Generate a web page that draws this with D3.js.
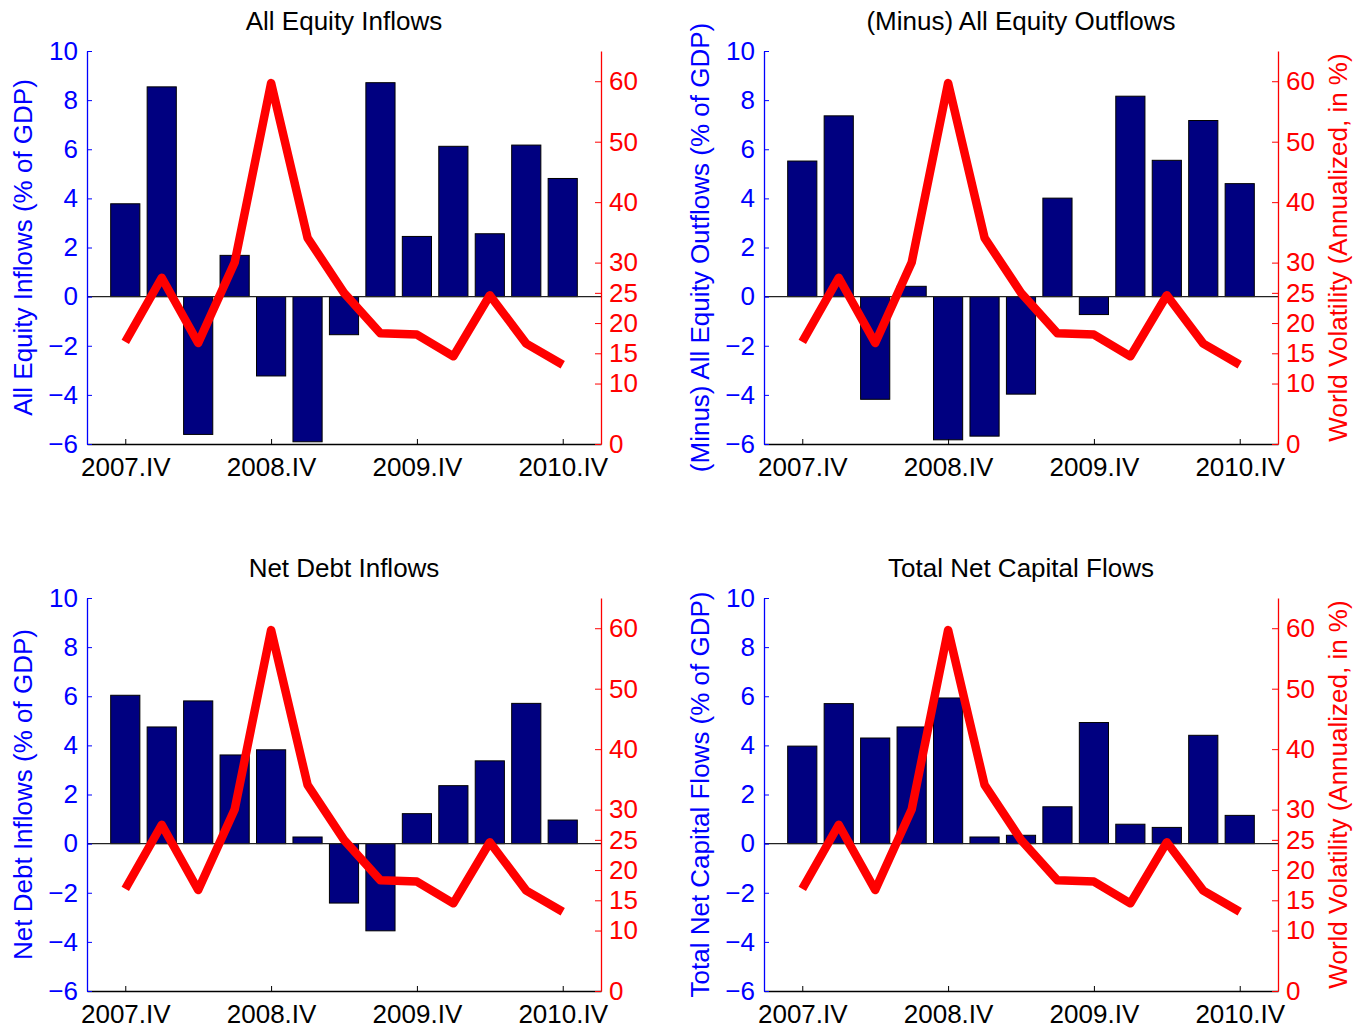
<!DOCTYPE html>
<html><head><meta charset="utf-8">
<script src="https://cdn.jsdelivr.net/npm/d3@7/dist/d3.min.js"></script>
<style>
html,body{margin:0;padding:0;background:#fff;}
svg{display:block;}
text{font-family:"Liberation Sans",Arial,Helvetica,sans-serif;}
</style></head>
<body>
<svg id="chart" width="1367" height="1028"></svg>
<script>
// Quarters 2007.IV .. 2010.IV (13 quarters)
const quarters = ["2007.IV","2008.I","2008.II","2008.III","2008.IV","2009.I","2009.II","2009.III","2009.IV","2010.I","2010.II","2010.III","2010.IV"];
const xTickLabels = ["2007.IV","2008.IV","2009.IV","2010.IV"];
const equityInflows = [3.78, 8.54, -5.61, 1.68, -3.23, -5.91, -1.55, 8.71, 2.45, 6.12, 2.56, 6.17, 4.81];
const equityOutflowsMinus = [5.52, 7.36, -4.18, 0.42, -5.83, -5.68, -3.97, 4.01, -0.73, 8.16, 5.55, 7.17, 4.60];
const netDebtInflows = [6.04, 4.75, 5.81, 3.61, 3.82, 0.27, -2.42, -3.55, 1.22, 2.36, 3.37, 5.71, 0.96];
const totalNetFlows = [3.97, 5.70, 4.30, 4.75, 5.93, 0.27, 0.34, 1.50, 4.93, 0.79, 0.66, 4.41, 1.15];
const worldVolatility = [16.9, 27.5, 16.7, 30.0, 59.7, 34.1, 25.0, 18.3, 18.1, 14.5, 24.6, 16.6, 13.1];
const leftTicks = [-6, -4, -2, 0, 2, 4, 6, 8, 10];
const rightTicks = [0, 10, 15, 20, 25, 30, 40, 50, 60];

const panels = [
  {title:"All Equity Inflows", ylab:"All Equity Inflows (% of GDP)", data:equityInflows, x0:87, x1:601, y0:51, y1:444, rlab:false},
  {title:"(Minus) All Equity Outflows", ylab:"(Minus) All Equity Outflows (% of GDP)", data:equityOutflowsMinus, x0:764, x1:1278, y0:51, y1:444, rlab:true},
  {title:"Net Debt Inflows", ylab:"Net Debt Inflows (% of GDP)", data:netDebtInflows, x0:87, x1:601, y0:598, y1:991, rlab:false},
  {title:"Total Net Capital Flows", ylab:"Total Net Capital Flows (% of GDP)", data:totalNetFlows, x0:764, x1:1278, y0:598, y1:991, rlab:true}
];

const svg = d3.select("#chart");
const FS = 26;
const BLUE = "#0000ff", RED = "#ff0000", NAVY = "#000080";

panels.forEach(p => {
  const g = svg.append("g");
  const x = d3.scaleLinear().domain([-0.05, 14.05]).range([p.x0, p.x1]);
  const step = x(1) - x(0);
  const yL = d3.scaleLinear().domain([-6, 10]).range([p.y1, p.y0]);
  const yR = d3.scaleLinear().domain([0, 65]).range([p.y1, p.y0]);

  // bars
  g.selectAll("rect.bar").data(p.data).enter().append("rect")
    .attr("x", (d,i) => x(i+1) - step*0.4)
    .attr("width", step*0.8)
    .attr("y", d => yL(Math.max(0,d)))
    .attr("height", d => Math.abs(yL(d) - yL(0)))
    .attr("fill", NAVY).attr("stroke", "#000").attr("stroke-width", 1);

  // zero line
  g.append("line").attr("x1", p.x0).attr("x2", p.x1)
    .attr("y1", yL(0)).attr("y2", yL(0))
    .attr("stroke", "#222").attr("stroke-width", 1.2);

  // volatility line
  const line = d3.line().x((d,i) => x(i+1)).y(d => yR(d));
  g.append("path").datum(worldVolatility).attr("d", line)
    .attr("fill", "none").attr("stroke", RED).attr("stroke-width", 8.5)
    .attr("stroke-linejoin", "round").attr("stroke-linecap", "butt");

  // bottom axis
  const xAx = d3.axisBottom(x).tickValues([1,5,9,13])
    .tickFormat((d,i) => xTickLabels[i]).tickSizeInner(-5).tickSizeOuter(0).tickPadding(12);
  const gx = g.append("g").attr("transform", `translate(0,${p.y1})`).call(xAx);
  gx.select(".domain").attr("stroke", "#000").attr("stroke-width", 1.3);
  gx.selectAll(".tick line").attr("stroke", "#000");
  gx.selectAll("text").attr("font-size", FS).attr("fill", "#000")
    .attr("font-family", '"Liberation Sans",Arial,sans-serif').attr("dy", "0.71em").attr("y", 14);

  // left axis
  const lAx = d3.axisLeft(yL).tickValues(leftTicks).tickFormat(d => d < 0 ? "\u2212" + Math.abs(d) : d)
    .tickSizeInner(-5).tickSizeOuter(0).tickPadding(13);
  const gl = g.append("g").attr("transform", `translate(${p.x0},0)`).call(lAx);
  gl.select(".domain").attr("stroke", BLUE).attr("stroke-width", 1.3);
  gl.selectAll(".tick line").attr("stroke", BLUE);
  gl.selectAll("text").attr("font-size", FS).attr("fill", BLUE)
    .attr("font-family", '"Liberation Sans",Arial,sans-serif').attr("x", -9);

  // right axis
  const rAx = d3.axisRight(yR).tickValues(rightTicks)
    .tickSizeInner(-6).tickSizeOuter(0).tickPadding(13);
  const gr = g.append("g").attr("transform", `translate(${p.x1},0)`).call(rAx);
  gr.select(".domain").attr("stroke", RED).attr("stroke-width", 1.3);
  gr.selectAll(".tick line").attr("stroke", RED);
  gr.selectAll("text").attr("font-size", FS).attr("fill", RED)
    .attr("font-family", '"Liberation Sans",Arial,sans-serif').attr("x", 8);

  // title
  g.append("text").attr("x", (p.x0+p.x1)/2).attr("y", p.y0 - 21)
    .attr("text-anchor", "middle").attr("font-size", FS).attr("fill", "#000").text(p.title);

  // left label
  const cy = (p.y0 + p.y1)/2;
  g.append("text").attr("transform", `translate(${p.x0 - 55},${cy}) rotate(-90)`)
    .attr("text-anchor", "middle").attr("font-size", FS).attr("fill", BLUE).text(p.ylab);

  if (p.rlab) {
    g.append("text").attr("transform", `translate(${p.x1 + 69},${cy}) rotate(-90)`)
      .attr("text-anchor", "middle").attr("font-size", FS).attr("fill", RED)
      .text("World Volatility (Annualized, in %)");
  }
});
</script>
</body></html>
